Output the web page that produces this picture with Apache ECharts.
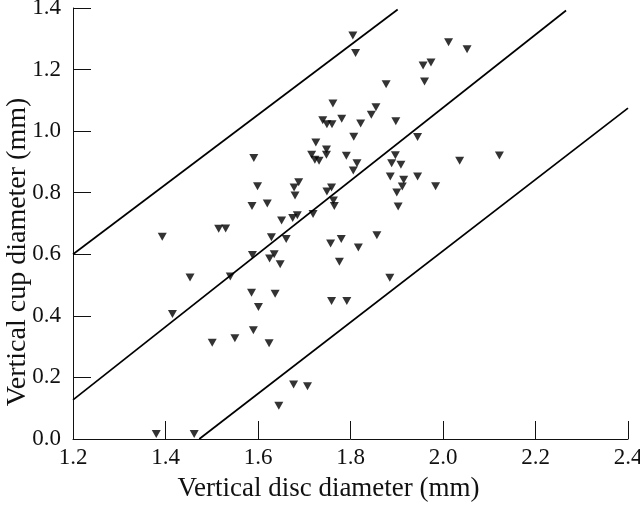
<!DOCTYPE html>
<html>
<head>
<meta charset="utf-8">
<script src="https://cdn.jsdelivr.net/npm/echarts@6/dist/echarts.min.js"></script>
<style>
html,body{margin:0;padding:0;background:#fff;}
#chart{width:640px;height:505px;}
</style>
</head>
<body>
<div id="chart"></div>
<script>
// Tick labels
const xTicks = [1.2, 1.4, 1.6, 1.8, 2.0, 2.2, 2.4];
const yTicks = [0.0, 0.2, 0.4, 0.6, 0.8, 1.0, 1.2, 1.4];

// Observed eyes: vertical disc diameter (mm)
const discDiameter = [
  1.393, 1.453, 1.415, 1.501, 1.380, 1.462, 1.591, 1.599, 1.587, 1.620,
  1.651, 1.678, 1.680, 1.688, 1.675, 1.685, 1.515, 1.530, 1.805, 1.811,
  1.877, 1.762, 1.855, 1.845, 1.898, 1.781, 1.740, 1.749, 1.760, 1.822,
  1.807, 1.725, 1.748, 1.748, 1.716, 1.723, 1.732, 1.791, 1.814, 1.806,
  1.897, 1.889, 1.909, 1.886, 1.915, 1.912, 1.945, 1.945, 1.900, 1.903,
  1.749, 1.759, 1.763, 1.765, 1.719, 1.629, 1.661, 1.757, 1.780, 1.857,
  1.817, 2.012, 1.957, 1.974, 1.960, 1.984, 2.052, 2.036, 2.122, 1.588,
  1.635, 1.625, 1.648, 1.540, 1.586, 1.637, 1.601, 1.590, 1.550, 1.624,
  1.677, 1.707, 1.645, 1.776, 1.885, 1.759, 1.792
];
// Observed eyes: vertical cup diameter (mm)
const cupDiameter = [
  0.657, 0.525, 0.406, 0.313, 0.016, 0.016, 0.913, 0.821, 0.757, 0.765,
  0.710, 0.817, 0.791, 0.834, 0.718, 0.727, 0.683, 0.684, 1.311, 1.254,
  1.152, 1.090, 1.078, 1.053, 1.032, 1.040, 1.035, 1.022, 1.022, 1.025,
  0.982, 0.963, 0.940, 0.923, 0.923, 0.907, 0.904, 0.920, 0.896, 0.872,
  0.922, 0.896, 0.891, 0.853, 0.842, 0.820, 0.853, 0.981, 0.801, 0.755,
  0.804, 0.817, 0.775, 0.757, 0.731, 0.655, 0.650, 0.635, 0.650, 0.662,
  0.622, 1.289, 1.213, 1.223, 1.161, 0.821, 1.266, 0.904, 0.921, 0.598,
  0.600, 0.586, 0.568, 0.528, 0.475, 0.472, 0.429, 0.353, 0.327, 0.311,
  0.177, 0.171, 0.108, 0.576, 0.524, 0.448, 0.448
];

// Reference lines (disc, cup) end points
const upperLineX = [1.2, 1.902];
const upperLineY = [0.600, 1.395];
const middleLineX = [1.2, 2.266];
const middleLineY = [0.127, 1.392];
const lowerLineX = [1.473, 2.4];
const lowerLineY = [0.0, 1.075];

const zip = (a, b) => a.map((v, i) => [v, b[i]]);
const serif = '"Liberation Serif", "DejaVu Serif", serif';

const chart = echarts.init(document.getElementById('chart'));
const lineStyle = { color: '#000', width: 1.7 };
const lineSeries = (xs, ys) => ({
  type: 'line', data: zip(xs, ys), symbol: 'none', silent: true,
  lineStyle: lineStyle, animation: false, z: 2
});

chart.setOption({
  animation: false,
  backgroundColor: '#fff',
  grid: { left: 73, top: 8, width: 555, height: 431, outerBoundsMode: 'none', containLabel: false },
  xAxis: {
    type: 'value', min: xTicks[0], max: xTicks[xTicks.length - 1], interval: 0.2,
    name: 'Vertical disc diameter (mm)', nameLocation: 'middle', nameGap: 36,
    nameMoveOverlap: false,
    nameTextStyle: { fontFamily: serif, fontSize: 27, color: '#111', padding: [0, 44, 0, 0] },
    axisLine: { show: true, onZero: false, lineStyle: { color: '#111', width: 1 } },
    axisTick: { show: true, inside: true, length: 18, lineStyle: { color: '#111', width: 1 } },
    axisLabel: { fontFamily: serif, fontSize: 23, color: '#111', margin: 7,
      formatter: v => v.toFixed(1) },
    splitLine: { show: false }
  },
  yAxis: {
    type: 'value', min: yTicks[0], max: yTicks[yTicks.length - 1], interval: 0.2,
    name: 'Vertical cup diameter (mm)', nameLocation: 'middle', nameGap: 41,
    nameMoveOverlap: false,
    nameTextStyle: { fontFamily: serif, fontSize: 28, color: '#111', padding: [0, 57, 0, 0] },
    axisLine: { show: true, onZero: false, lineStyle: { color: '#111', width: 1 } },
    axisTick: { show: true, inside: true, length: 18, lineStyle: { color: '#111', width: 1 } },
    axisLabel: { fontFamily: serif, fontSize: 23, color: '#111', margin: 12,
      formatter: v => v.toFixed(1) },
    splitLine: { show: false }
  },
  series: [
    lineSeries(upperLineX, upperLineY),
    lineSeries(middleLineX, middleLineY),
    lineSeries(lowerLineX, lowerLineY),
    {
      type: 'scatter', data: zip(discDiameter, cupDiameter),
      symbol: 'triangle', symbolRotate: 180, symbolSize: [9, 8],
      itemStyle: { color: '#000' }, z: 3
    }
  ]
});
</script>
</body>
</html>
